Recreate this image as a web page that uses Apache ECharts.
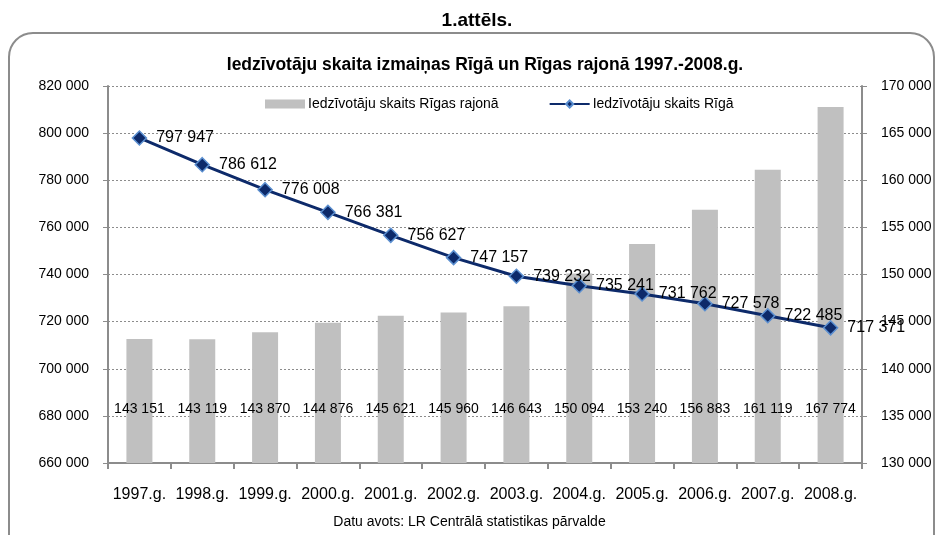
<!DOCTYPE html>
<html>
<head>
<meta charset="utf-8">
<script src="https://cdn.jsdelivr.net/npm/echarts@6/dist/echarts.min.js"></script>
<style>
  html, body { margin: 0; padding: 0; background: #fff; }
  #main { width: 939px; height: 535px; }
</style>
</head>
<body>
<div id="main"></div>
<script>
var years = ['1997.g.', '1998.g.', '1999.g.', '2000.g.', '2001.g.', '2002.g.', '2003.g.', '2004.g.', '2005.g.', '2006.g.', '2007.g.', '2008.g.'];
var rajons = [143151, 143119, 143870, 144876, 145621, 145960, 146643, 150094, 153240, 156883, 161119, 167774];
var riga = [797947, 786612, 776008, 766381, 756627, 747157, 739232, 735241, 731762, 727578, 722485, 717371];

function fmt(v) {
  return String(v).replace(/\B(?=(\d{3})+(?!\d))/g, ' ');
}

var font = 'Liberation Sans, Arial, sans-serif';
var chart = echarts.init(document.getElementById('main'));

chart.setOption({
  animation: false,
  graphic: [{
    type: 'rect',
    shape: { x: 9, y: 33, width: 925, height: 560, r: 24 },
    style: { fill: 'none', stroke: '#8c8c8c', lineWidth: 2 }
  }, {
    type: 'text',
    left: 'center',
    top: 515,
    style: { text: 'Datu avots: LR Centrālā statistikas pārvalde', font: '14px ' + font, fill: '#000' }
  }],
  title: [{
    text: '1.attēls.',
    left: 472,
    textAlign: 'center',
    top: 6,
    textStyle: { fontSize: 19, fontWeight: 'bold', color: '#000', fontFamily: font }
  }, {
    text: 'Iedzīvotāju skaita izmaiņas Rīgā un Rīgas rajonā 1997.-2008.g.',
    left: 480,
    textAlign: 'center',
    top: 51,
    textStyle: { fontSize: 17.5, fontWeight: 'bold', color: '#000', fontFamily: font }
  }],
  legend: {
    left: 260,
    top: 92,
    itemGap: 50,
    itemWidth: 40,
    itemHeight: 9,
    textStyle: { fontSize: 14, fontFamily: font, color: '#000', padding: [0, 0, 0, -2] },
    data: [
      { name: 'Iedzīvotāju skaits Rīgas rajonā', icon: 'rect' },
      { name: 'Iedzīvotāju skaits Rīgā' }
    ]
  },
  grid: { left: 108, right: 77, top: 86, bottom: 72 },
  xAxis: {
    type: 'category',
    data: years,
    axisLine: { lineStyle: { color: '#8c8c8c', width: 2 } },
    axisTick: { show: true, length: 6, lineStyle: { color: '#8c8c8c', width: 2 } },
    axisLabel: { color: '#000', fontSize: 16, margin: 24, fontFamily: font, interval: 0 }
  },
  yAxis: [{
    type: 'value',
    min: 660000,
    max: 820000,
    interval: 20000,
    axisLine: { show: true, lineStyle: { color: '#8c8c8c', width: 2 } },
    axisTick: { show: true, length: 5, lineStyle: { color: '#8c8c8c', width: 1 } },
    axisLabel: { color: '#000', fontSize: 14, fontFamily: font, margin: 19, formatter: fmt },
    splitLine: { lineStyle: { color: '#8c8c8c', type: [2, 2], width: 1 } }
  }, {
    type: 'value',
    min: 130000,
    max: 170000,
    interval: 5000,
    axisLine: { show: true, lineStyle: { color: '#8c8c8c', width: 2 } },
    axisTick: { show: true, length: 5, lineStyle: { color: '#8c8c8c', width: 1 } },
    axisLabel: { color: '#000', fontSize: 14, fontFamily: font, margin: 19, formatter: fmt },
    splitLine: { show: false }
  }],
  series: [{
    name: 'Iedzīvotāju skaits Rīgas rajonā',
    type: 'bar',
    yAxisIndex: 1,
    data: rajons,
    barWidth: 26,
    itemStyle: { color: '#c0c0c0' },
    label: {
      show: true,
      position: 'insideBottom',
      distance: 47,
      color: '#000',
      fontSize: 14,
      fontFamily: font,
      formatter: function (p) { return fmt(p.value); }
    },
    z: 1
  }, {
    name: 'Iedzīvotāju skaits Rīgā',
    type: 'line',
    yAxisIndex: 0,
    data: riga,
    symbol: 'diamond',
    symbolSize: 14,
    lineStyle: { color: '#0d2a6a', width: 3 },
    itemStyle: { color: '#0d2a6a', borderColor: '#5b8fd0', borderWidth: 1.5 },
    label: {
      show: true,
      position: 'right',
      distance: 9,
      color: '#000',
      fontSize: 16,
      fontFamily: font,
      formatter: function (p) { return fmt(p.value); }
    },
    z: 3
  }]
});
</script>
</body>
</html>
